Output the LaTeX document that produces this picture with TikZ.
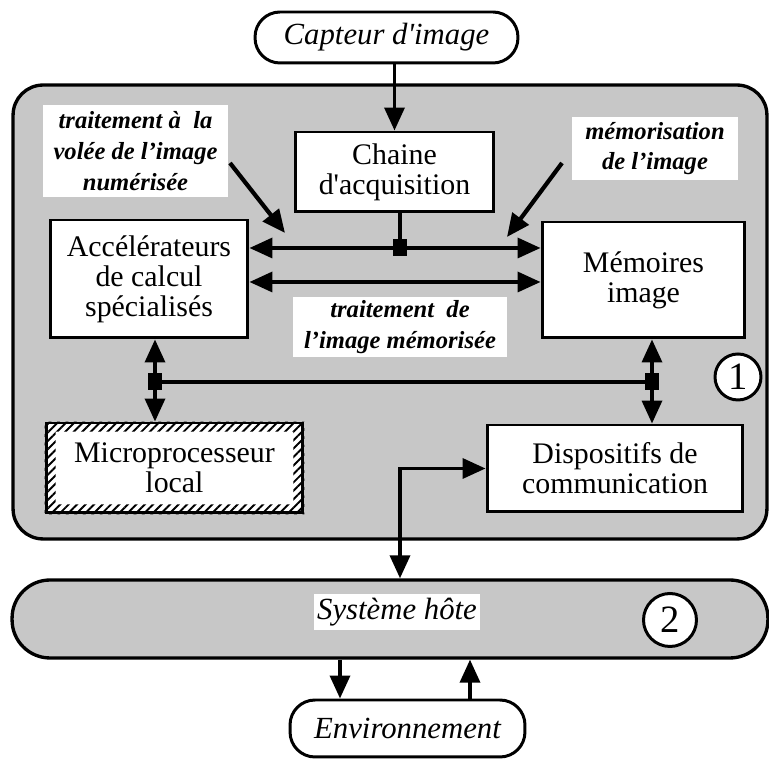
\documentclass[tikz,border=0pt]{standalone}
\usepackage{fontspec}
\setmainfont{Liberation Serif}
\usetikzlibrary{arrows.meta,patterns.meta,calc}
\begin{document}
\begin{tikzpicture}[x=0.02cm,y=-0.02cm,
  every node/.style={inner sep=0pt},
  txt/.style={font=\fontsize{17}{17}\selectfont, align=center},
  lbl/.style={font=\fontsize{14}{17.5}\selectfont\bfseries\itshape, align=center, fill=white},
  box/.style={draw, line width=1.7pt, fill=white, txt},
  pill/.style={box, rounded corners=0.5cm, font=\fontsize{17.5}{17.5}\selectfont\itshape},
  arr/.style={line width=2pt, -{Triangle[length=0.46cm,width=0.4cm]}},
  dbl/.style={line width=2pt, {Triangle[length=0.46cm,width=0.4cm]}-{Triangle[length=0.46cm,width=0.4cm]}},
  sq/.style={fill=black, minimum width=0.3cm, minimum height=0.34cm},
  num/.style={draw, circle, line width=1.7pt, fill=white, font=\fontsize{22}{22}\selectfont},
  region/.style={draw, line width=1.9pt, fill=black!22}
]
\useasboundingbox (0,0) rectangle (769,759);

% region 1
\node[region, rounded corners=0.6cm, minimum width=15.08cm, minimum height=9.08cm] (r1) at (390,312) {};
% region 2
\node[region, rounded corners=0.76cm, minimum width=15.12cm, minimum height=1.56cm] (sys) at (390,619) {};
\node[fill=white, inner sep=2pt, font=\fontsize{17.5}{17.5}\selectfont\itshape] (systxt) at (397,612) {Système hôte};

% top and bottom terminals
\node[pill, minimum width=5.26cm, minimum height=1.02cm] (cap) at (386.5,37.5) {Capteur d\textquotesingle image};
\node[pill, minimum width=4.7cm, minimum height=1.14cm] (env) at (407.5,728.5) {Environnement};

% boxes
\node[box, minimum width=3.98cm, minimum height=1.6cm] (chaine) at (394.5,172) {Chaine\\d\textquotesingle acquisition};
\node[box, minimum width=3.96cm, minimum height=2.36cm] (acc) at (149,279) {Accélérateurs\\de calcul\\spécialisés};
\node[box, minimum width=4.06cm, minimum height=2.32cm] (mem) at (643.5,280) {Mémoires\\image};
\node[box, minimum width=5.12cm, minimum height=1.74cm] (disp) at (615,468.5) {Dispositifs de\\communication};
\node[box, minimum width=5.14cm, minimum height=1.8cm] (micro) at (174.5,468) {Microprocesseur\\local};
\fill[pattern={Lines[angle=45,distance=3.4pt,line width=1.1pt]}, even odd rule]
  (micro.south west) rectangle (micro.north east)
  ($(micro.south west)+(0.22cm,0.2cm)$) rectangle ($(micro.north east)+(-0.22cm,-0.2cm)$);

% labels
\node[lbl, minimum width=3.7cm, minimum height=1.84cm] (l1) at (135.5,151) {traitement à\ \ la\\volée de l’image\\numérisée};
\node[lbl, minimum width=3.32cm, minimum height=1.26cm] (l2) at (655,148.5) {mémorisation\\de l’image};
\node[lbl, minimum width=4.28cm, minimum height=1.2cm] (l3) at (400,327) {traitement\ \ de\\l’image mémorisée};

% junctions
\coordinate (b2) at (400,282);
\coordinate (k) at (400,465);
\coordinate (e1) at (340,680);
\coordinate (e2) at (470,680);
\coordinate (d1a) at (230,163);
\coordinate (d1b) at (285,233);
\coordinate (d2a) at (562,163);
\coordinate (d2b) at (507,237);
\node[sq] (sqT) at (400,248) {};
\node[sq] (sqL) at (155,382) {};
\node[sq] (sqR) at (652,382) {};

% connectors
\draw[arr] (cap.south -| chaine.north) -- (chaine.north);
\draw[line width=2pt] (chaine.south -| sqT) -- (sqT.center);
\draw[dbl] (acc.east |- sqT) -- (mem.west |- sqT);
\draw[dbl] (acc.east |- b2) -- (mem.west |- b2);
\draw[line width=2pt] (sqL.center) -- (sqR.center);
\draw[arr] (sqL.center) -- (acc.south -| sqL);
\draw[arr] (sqL.center) -- (micro.north -| sqL);
\draw[arr] (sqR.center) -- (mem.south -| sqR);
\draw[arr] (sqR.center) -- (disp.north -| sqR);
\draw[dbl] (sys.north -| k) |- (disp.west);
\draw[arr] (sys.south -| e1) -- (env.north -| e1);
\draw[arr] (env.north -| e2) -- (sys.south -| e2);
\draw[arr, line width=2.4pt] (d1a) -- (d1b);
\draw[arr, line width=2.4pt] (d2a) -- (d2b);
\node[sq] at (sqT) {};
\node[sq] at (sqL) {};
\node[sq] at (sqR) {};

% numbers
\node[num, minimum size=0.92cm] (n1) at (738,377) {1};
\node[num, minimum size=1.06cm] (n2) at (670,620) {2};
\end{tikzpicture}
\end{document}
